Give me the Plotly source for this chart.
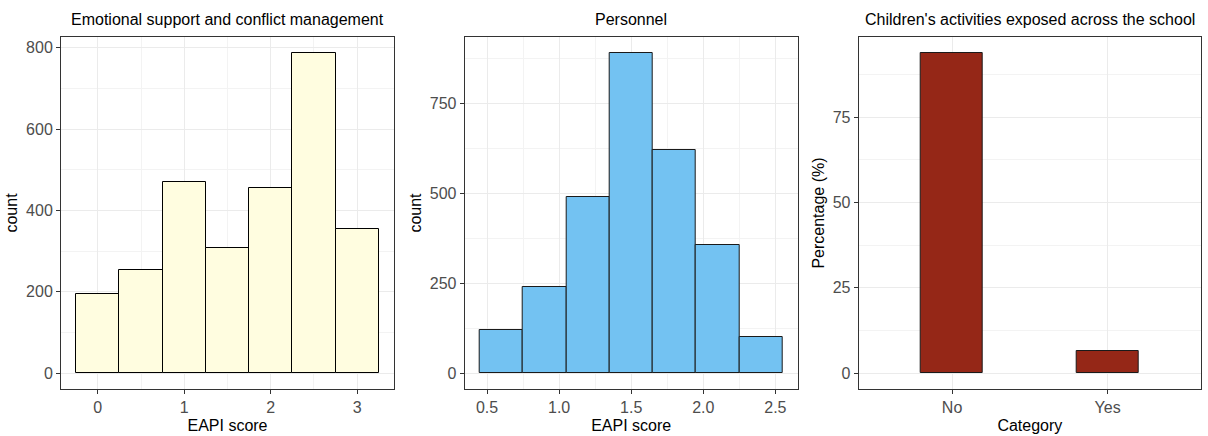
import plotly.graph_objects as go

# ---- data ----
emo_centers = [0.0, 0.5, 1.0, 1.5, 2.0, 2.5, 3.0]
emo_counts = [194, 254, 469, 308, 455, 787, 354]
emo_binwidth = 0.5

pers_centers = [0.6, 0.9, 1.2, 1.5, 1.8, 2.1, 2.4]
pers_counts = [119, 240, 491, 891, 620, 357, 99]
pers_binwidth = 0.3

cat_labels = ["No", "Yes"]
cat_pct = [93.8, 6.4]

titles = ["Emotional support and conflict management", "Personnel",
          "Children's activities exposed across the school"]

W, H = 1208, 436
FONT = "Liberation Sans, Arial, sans-serif"

fig = go.Figure()

def px_x(a, b):
    return [a / W, b / W]

y_dom = [(H - 389) / H, (H - 37) / H]
domains = [px_x(61, 394), px_x(464.7, 797.7), px_x(858.7, 1201)]

fig.add_trace(go.Bar(x=emo_centers, y=emo_counts, width=[emo_binwidth] * len(emo_centers),
                     marker=dict(color="#FFFDE0", line=dict(color="#000000", width=1)),
                     xaxis="x", yaxis="y", showlegend=False))
fig.add_trace(go.Bar(x=pers_centers, y=pers_counts, width=[pers_binwidth] * len(pers_centers),
                     marker=dict(color="#73C2F2", line=dict(color="#1a1a1a", width=1)),
                     xaxis="x2", yaxis="y2", showlegend=False))
fig.add_trace(go.Bar(x=cat_labels, y=cat_pct, width=0.4,
                     marker=dict(color="#952717", line=dict(color="#1a1a1a", width=1)),
                     xaxis="x3", yaxis="y3", showlegend=False))

def ax_common():
    return dict(showline=True, linecolor="#333333", linewidth=1, mirror=True,
                ticks="outside", ticklen=4, tickcolor="#333333", tickwidth=1,
                tickfont=dict(family=FONT, size=16, color="#4D4D4D"),
                showgrid=True, gridcolor="#EBEBEB", gridwidth=1, zeroline=False,
                title_font=dict(family=FONT, size=16, color="#000000"),
                minor=dict(showgrid=True, gridcolor="#F3F3F3", gridwidth=1, ticks=""))

emo_lo = emo_centers[0] - emo_binwidth / 2
emo_hi = emo_centers[-1] + emo_binwidth / 2
emo_pad = (emo_hi - emo_lo) * 0.05
pers_lo = pers_centers[0] - pers_binwidth / 2
pers_hi = pers_centers[-1] + pers_binwidth / 2
pers_pad = (pers_hi - pers_lo) * 0.05

layout = dict(
    width=W, height=H, margin=dict(l=0, r=0, t=0, b=0),
    plot_bgcolor="white", paper_bgcolor="white", barmode="overlay", bargap=0,
    xaxis=dict(domain=domains[0], anchor="y", range=[emo_lo - emo_pad, emo_hi + emo_pad],
               tickvals=[0, 1, 2, 3], ticktext=["0", "1", "2", "3"],
               title=dict(text="EAPI score", standoff=4), **ax_common()),
    yaxis=dict(domain=y_dom, anchor="x", range=[-max(emo_counts) * 0.05, max(emo_counts) * 1.05],
               tickvals=[0, 200, 400, 600, 800],
               title=dict(text="count", standoff=4), **ax_common()),
    xaxis2=dict(domain=domains[1], anchor="y2", range=[pers_lo - pers_pad, pers_hi + pers_pad],
                tickvals=[0.5, 1.0, 1.5, 2.0, 2.5], ticktext=["0.5", "1.0", "1.5", "2.0", "2.5"],
                title=dict(text="EAPI score", standoff=4), **ax_common()),
    yaxis2=dict(domain=y_dom, anchor="x2", range=[-max(pers_counts) * 0.05, max(pers_counts) * 1.05],
                tickvals=[0, 250, 500, 750],
                title=dict(text="count", standoff=4), **ax_common()),
    xaxis3=dict(domain=domains[2], anchor="y3", range=[-0.6, 1.6], type="category",
                title=dict(text="Category", standoff=4), **ax_common()),
    yaxis3=dict(domain=y_dom, anchor="x3", range=[-max(cat_pct) * 0.05, max(cat_pct) * 1.05],
                tickvals=[0, 25, 50, 75],
                title=dict(text="Percentage (%)", standoff=4), **ax_common()),
)
fig.update_layout(**layout)

# minor gridlines
fig.update_xaxes(minor=dict(tickvals=[0.5, 1.5, 2.5]), selector=dict(anchor="y"))
fig.layout.xaxis.minor.tickvals = [0.5, 1.5, 2.5]
fig.layout.yaxis.minor.tickvals = [100, 300, 500, 700]
fig.layout.xaxis2.minor.tickvals = [0.75, 1.25, 1.75, 2.25]
fig.layout.yaxis2.minor.tickvals = [125, 375, 625, 875]
fig.layout.yaxis3.minor.tickvals = [12.5, 37.5, 62.5, 87.5]
fig.layout.xaxis3.minor.showgrid = False

for dom, t in zip(domains, titles):
    fig.add_annotation(text=t, x=(dom[0] + dom[1]) / 2, y=(H - 20) / H, xref="paper", yref="paper",
                       showarrow=False, xanchor="center", yanchor="middle",
                       font=dict(family=FONT, size=16, color="#000000"))

fig.write_html("out.html")
